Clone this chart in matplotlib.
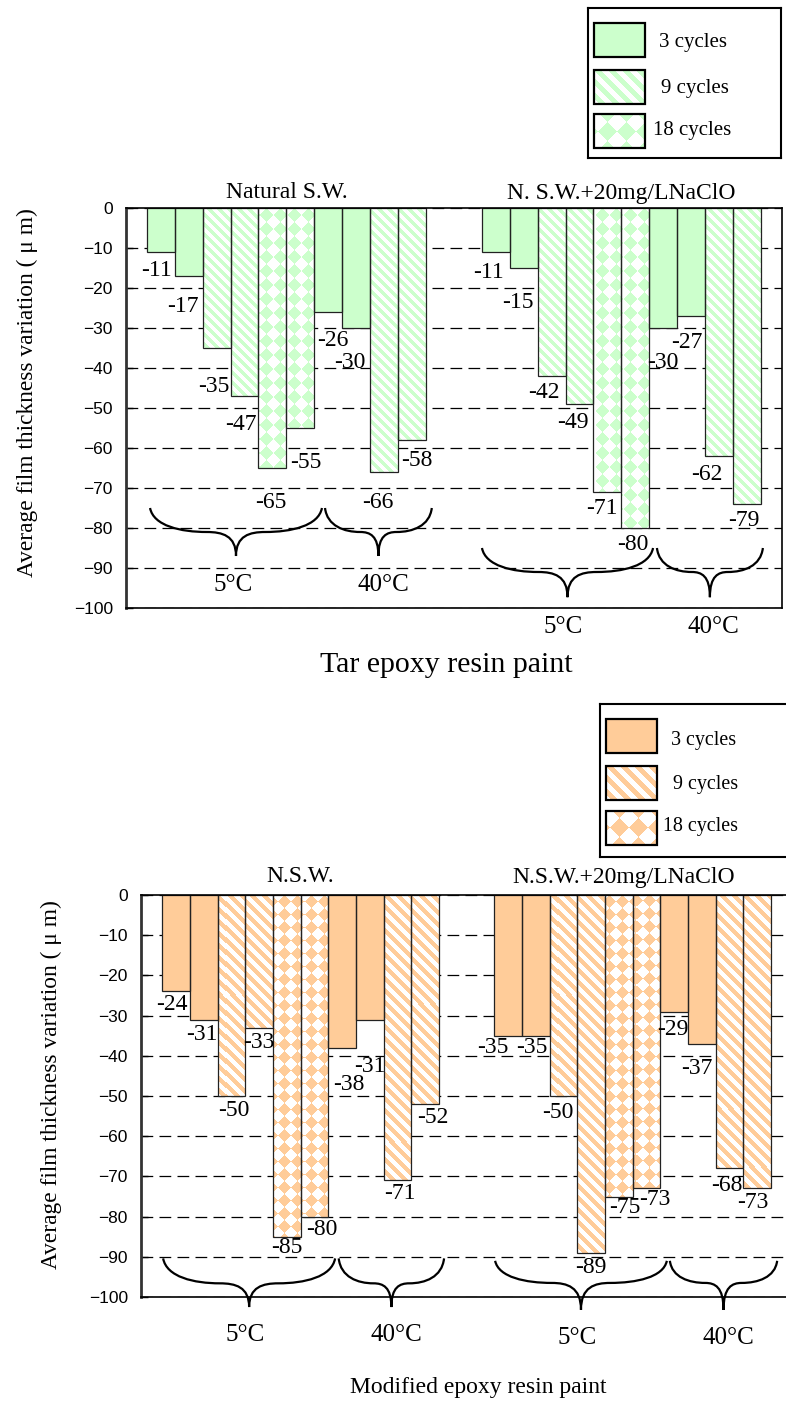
import numpy as np
import matplotlib
matplotlib.use("Agg")
import matplotlib.pyplot as plt
from matplotlib.patches import Rectangle, PathPatch
from matplotlib.path import Path
from matplotlib.colors import to_rgb

plt.rcParams['font.family'] = ['Liberation Serif', 'DejaVu Serif']
plt.rcParams['axes.unicode_minus'] = True

FIG_W, FIG_H, DPI = 786, 1401, 100

# ---------------- data ----------------
cycle_labels = ["3 cycles", "9 cycles", "18 cycles"]
bar_cycle = [0, 0, 1, 1, 2, 2, 0, 0, 1, 1]          # cycle index of each bar in a group
temperature_labels = ["5°C", "40°C"]
y_ticks = [0, -10, -20, -30, -40, -50, -60, -70, -80, -90, -100]

tar_titles = ["Natural S.W.", "N. S.W.+20mg/LNaClO"]
tar_natural = [-11, -17, -35, -47, -65, -55, -26, -30, -66, -58]
tar_natural_labels = ["-11", "-17", "-35", "-47", "-65", "-55", "-26", "-30", "-66", "-58"]
tar_naclo = [-11, -15, -42, -49, -71, -80, -30, -27, -62, -74]
tar_naclo_labels = ["-11", "-15", "-42", "-49", "-71", "-80", "-30", "-27", "-62", "-79"]

mod_titles = ["N.S.W.", "N.S.W.+20mg/LNaClO"]
mod_natural = [-24, -31, -50, -33, -85, -80, -38, -31, -71, -52]
mod_natural_labels = ["-24", "-31", "-50", "-33", "-85", "-80", "-38", "-31", "-71", "-52"]
mod_naclo = [-35, -35, -50, -89, -75, -73, -29, -37, -68, -73]
mod_naclo_labels = ["-35", "-35", "-50", "-89", "-75", "-73", "-29", "-37", "-68", "-73"]

tar_xlabel = "Tar epoxy resin paint"
mod_xlabel = "Modified epoxy resin paint"
y_label = "Average film thickness variation ( μ m)"

# ---------------- label offsets (pixels: dx right, dy down from bar end) ----------------
tar_natural_off = [(-4, 19), (-6, 30), (-3, 39), (-4, 28), (-2, 34), (5, 34), (4, 29), (-7, 34), (-6, 30), (5, 20)]
tar_naclo_off = [(-7, 21), (-6, 35), (-8, 17), (-7, 19), (-6, 16), (-3, 16), (-1, 34), (-5, 27), (-12, 18), (-3, 16)]
mod_natural_off = [(-4, 13), (-2, 15), (2, 14), (0, 15), (0, 11), (7, 13), (7, 37), (0, 47), (3, 13), (8, 13)]
mod_naclo_off = [(-15, 12), (-4, 12), (-6, 16), (0, 15), (6, 11), (8, 11), (-1, 18), (-5, 25), (-3, 17), (-4, 14)]

GREEN = "#ccffcc"
ORANGE = "#ffcc99"

fig = plt.figure(figsize=(FIG_W / DPI, FIG_H / DPI), dpi=DPI)


def fig_rect(left, top, right, bottom):
    return [left / FIG_W, 1 - bottom / FIG_H, (right - left) / FIG_W, (bottom - top) / FIG_H]


def texture(kind, color, w, h, period):
    j = np.arange(w)[None, :]
    i = np.arange(h)[:, None]
    if kind == 1:
        mask = ((j - i) % period) < period * 0.5
    else:
        a = period
        mask = ((np.floor((i + j) / a) + np.floor((i - j) / a)) % 2) == 0
    img = np.ones((h, w, 3))
    img[np.broadcast_to(mask, (h, w))] = np.array(to_rgb(color))
    return img


def brace(ax, x0, x1, yt, ym, ytip):
    xc = (x0 + x1) / 2
    w = x1 - x0
    verts = [
        (x0, yt),
        (x0 + 0.02 * w, yt + 0.75 * (ym - yt)), (x0 + 0.18 * w, ym), (x0 + 0.33 * w, ym),
        (xc - 0.08 * w, ym), (xc, ym + 0.15 * (ytip - ym)), (xc, ytip),
        (xc, ym + 0.15 * (ytip - ym)), (xc + 0.08 * w, ym), (x1 - 0.33 * w, ym),
        (x1 - 0.18 * w, ym), (x1 - 0.02 * w, yt + 0.75 * (ym - yt)), (x1, yt),
    ]
    codes = [Path.MOVETO] + [Path.CURVE4] * 12
    ax.add_patch(PathPatch(Path(verts, codes), fill=False, lw=1.6, edgecolor='black',
                           clip_on=False, zorder=4))


def draw_chart(spec):
    L, T, R, B = spec['box']
    ax = fig.add_axes(fig_rect(L, T, R, B))
    slot = spec['slot']
    xmax = (R - L) / slot
    w_px, h_px = int(round(R - L)), int(round(B - T))
    tex = {1: texture(1, spec['color'], w_px, h_px, spec['stripe']),
           2: texture(2, spec['color'], w_px, h_px, spec['diamond'])}
    for g, (values, labels, offs, title) in enumerate(spec['groups']):
        x0 = (spec['starts'][g] - L) / slot
        xs = x0 + np.arange(len(values))
        bars = ax.bar(xs, values, width=1, align='edge', color='white', edgecolor='none', zorder=2)
        for b, c in zip(bars, bar_cycle):
            if c == 0:
                b.set_facecolor(spec['color'])
            else:
                im = ax.imshow(tex[c], extent=(0, xmax, -100, 0), origin='upper', aspect='auto',
                               interpolation='nearest', zorder=2.1)
                im.set_clip_path(b)
        ax.bar(xs, values, width=1, align='edge', fill=False, edgecolor='#222222', lw=0.9, zorder=2.2)
        for xv, v, lab, (dx, dy) in zip(xs, values, labels, offs):
            ax.annotate(lab, xy=(xv + 0.5, v), xytext=(dx, -dy), textcoords='offset pixels',
                        ha='center', va='center', fontsize=17, zorder=5, annotation_clip=False)
        ax.annotate(title, xy=(x0 + spec['title_x'][g], 0), xytext=(0, spec['title_dy']),
                    textcoords='offset pixels', ha='center', va='center', fontsize=17,
                    annotation_clip=False)
        for k, (bs, be) in enumerate(spec['braces'][g]):
            yt, ym, ytip = spec['brace_y'][g]
            brace(ax, x0 + bs, x0 + be, yt, ym, ytip)
            ax.text(x0 + spec['temp_x'][g][k], spec['temp_y'][g], temperature_labels[k],
                    ha='center', va='center', fontsize=18, clip_on=False)
    ax.set_xlim(0, xmax)
    ax.set_ylim(-100, 0)
    ax.set_xticks([])
    ax.set_yticks(y_ticks)
    ax.set_yticklabels([f"{t}".replace("-", "\u2212") for t in y_ticks], fontfamily='Liberation Sans',
                       fontsize=12.5)
    ax.tick_params(axis='y', direction='in', length=5, width=1, pad=9.5)
    ax.yaxis.grid(True, color='black', lw=0.9, linestyle=(0, (9.4, 5)))
    ax.set_axisbelow(True)
    for s in ['top', 'right', 'bottom']:
        ax.spines[s].set_linewidth(1.2)
    ax.spines['left'].set_linewidth(2)
    ax.spines['left'].set_color('#333333')
    return ax


def draw_legend(box, color, patch_rows, text_pos, fs, stripe, diamond):
    L, T, R, B = box
    w, h = R - L, B - T
    lax = fig.add_axes(fig_rect(L, T, R, B))
    lax.set_xlim(0, w)
    lax.set_ylim(h, 0)
    lax.set_xticks([])
    lax.set_yticks([])
    for s in lax.spines.values():
        s.set_linewidth(1.5)
    tex = {1: texture(1, color, int(w), int(h), stripe), 2: texture(2, color, int(w), int(h), diamond)}
    for c, (py, (tx, ty)) in enumerate(zip(patch_rows, text_pos)):
        rect = Rectangle((6, py), 51, 34, facecolor=color if c == 0 else 'white', edgecolor='none', zorder=2)
        lax.add_patch(rect)
        if c > 0:
            im = lax.imshow(tex[c], extent=(0, w, h, 0), origin='upper', aspect='auto',
                            interpolation='nearest', zorder=2.1)
            im.set_clip_path(rect)
        lax.add_patch(Rectangle((6, py), 51, 34, fill=False, edgecolor='black', lw=1.6, zorder=3))
        lax.text(tx, ty, cycle_labels[c], ha='left', va='center', fontsize=fs)
    lax.set_xlim(0, w)
    lax.set_ylim(h, 0)


# ---------------- top chart: tar epoxy ----------------
draw_chart(dict(
    box=(126, 208, 782, 608), slot=27.95, color=GREEN, stripe=10, diamond=14,
    starts=[146.7, 481.7],
    groups=[(tar_natural, tar_natural_labels, tar_natural_off, tar_titles[0]),
            (tar_naclo, tar_naclo_labels, tar_naclo_off, tar_titles[1])],
    title_x=[5.0, 5.0], title_dy=15,
    braces=[[(0.12, 6.27), (6.38, 10.2)], [(0.01, 6.13), (6.27, 10.06)]],
    brace_y=[(-75, -81, -87), (-85, -91, -97.3)],
    temp_x=[[3.09, 8.45], [2.91, 8.3]], temp_y=[-94.3, -104.8],
))

# ---------------- bottom chart: modified epoxy ----------------
draw_chart(dict(
    box=(141, 895, 800, 1297), slot=27.65, color=ORANGE, stripe=12, diamond=13,
    starts=[162.3, 494.3],
    groups=[(mod_natural, mod_natural_labels, mod_natural_off, mod_titles[0]),
            (mod_naclo, mod_naclo_labels, mod_naclo_off, mod_titles[1])],
    title_x=[5.0, 4.69], title_dy=18,
    braces=[[(0.03, 6.25), (6.38, 10.19)], [(0.03, 6.24), (6.35, 10.23)]],
    brace_y=[(-90.4, -96.6, -102.5), (-91, -96.5, -103.2)],
    temp_x=[[2.99, 8.45], [2.99, 8.47]], temp_y=[-109.5, -110.2],
))

draw_legend((588, 8, 781, 158), GREEN, [15, 62, 106], [(71, 35), (73, 80), (65, 122)], 15, 14, 19)
draw_legend((600, 704, 810, 857), ORANGE, [15, 62, 107], [(71, 36), (73, 81), (63, 123)], 14.4, 14, 19)

fig.text(27 / FIG_W, 1 - 393 / FIG_H, y_label, rotation=90, ha='center', va='center', fontsize=16.8)
fig.text(51 / FIG_W, 1 - 1085 / FIG_H, y_label, rotation=90, ha='center', va='center', fontsize=16.8)
fig.text(446 / FIG_W, 1 - 665 / FIG_H, tar_xlabel, ha='center', va='center', fontsize=21.5)
fig.text(478 / FIG_W, 1 - 1387 / FIG_H, mod_xlabel, ha='center', va='center', fontsize=17)

fig.savefig("out.png", dpi=DPI)
